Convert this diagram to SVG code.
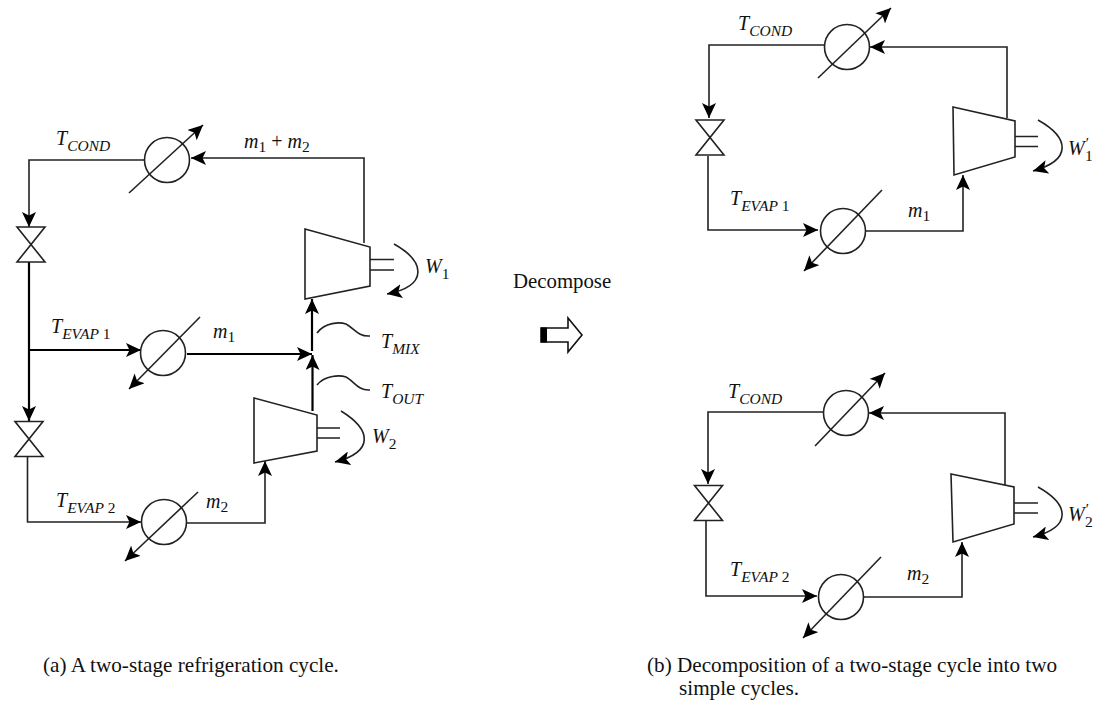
<svg xmlns="http://www.w3.org/2000/svg" width="1094" height="702" viewBox="0 0 1094 702">
<style>
text{font-family:"Liberation Serif","Times New Roman",serif;fill:#111}
.i{font-style:italic;font-size:20px}
.s{font-size:15.5px}
.c{font-size:21.2px}
.l{fill:none;stroke:#222;stroke-width:1.6}
.t{fill:none;stroke:#000;stroke-width:2.2}
.k{fill:#fff;stroke:#222;stroke-width:1.6}
</style>
<defs>
<marker id="a" markerUnits="userSpaceOnUse" markerWidth="16" markerHeight="14" refX="15" refY="7" orient="auto"><path d="M0 0L15 7L0 14L3.5 7Z" fill="#000"/></marker>
<symbol id="valve" overflow="visible"><path class="k" d="M-14 -17.5H14L-14 17.5H14Z"/></symbol>
</defs>
<g id="connectors">
<path class="l" marker-end="url(#a)" d="M144 160H29V227"/>
<path class="l" marker-end="url(#a)" d="M364 243V158H191"/>
<path class="t" marker-end="url(#a)" d="M29 262V421"/>
<path class="t" marker-end="url(#a)" d="M29 350H141"/>
<path class="t" marker-end="url(#a)" d="M187 354H312"/>
<path class="t" marker-end="url(#a)" d="M312.500 411V355"/>
<path class="t" marker-end="url(#a)" d="M312 351V299"/>
<path class="l" marker-end="url(#a)" d="M27.500 456V522H141"/>
<path class="l" marker-end="url(#a)" d="M187 523H265V461"/>
<path class="l" marker-end="url(#a)" d="M824 45H709V118"/>
<path class="l" marker-end="url(#a)" d="M708 156V230H818"/>
<path class="l" marker-end="url(#a)" d="M866 231H963V175"/>
<path class="l" marker-end="url(#a)" d="M1007 118V47H870"/>
<path class="l" marker-end="url(#a)" d="M823 412H708V484"/>
<path class="l" marker-end="url(#a)" d="M706 521V596H817"/>
<path class="l" marker-end="url(#a)" d="M864 597H962V542"/>
<path class="l" marker-end="url(#a)" d="M1005 486V413H869"/>
</g>
<g id="cond-a"><circle class="k" cx="167" cy="160" r="22.500"/><path class="l" marker-end="url(#a)" d="M129 193L203 125"/></g>
<g id="evap1-a"><circle class="k" cx="163" cy="353" r="22.500"/><path class="l" marker-end="url(#a)" d="M200 317L129 389"/></g>
<g id="evap2-a"><circle class="k" cx="164" cy="522" r="22.500"/><path class="l" marker-end="url(#a)" d="M198 492L125 561"/></g>
<g id="cond-b1"><circle class="k" cx="847" cy="47" r="22.500"/><path class="l" marker-end="url(#a)" d="M818 78L891 8"/></g>
<g id="evap-b1"><circle class="k" cx="843" cy="231" r="22.500"/><path class="l" marker-end="url(#a)" d="M882 190L804 271"/></g>
<g id="cond-b2"><circle class="k" cx="846" cy="413" r="22.500"/><path class="l" marker-end="url(#a)" d="M815 446L885 373"/></g>
<g id="evap-b2"><circle class="k" cx="841" cy="597" r="22.500"/><path class="l" marker-end="url(#a)" d="M881 557L803 638"/></g>
<g id="valve-a1"><use href="#valve" x="31" y="244.500"/></g>
<g id="valve-a2"><use href="#valve" x="29" y="439"/></g>
<g id="valve-b1"><use href="#valve" x="710" y="137.500"/></g>
<g id="valve-b2"><use href="#valve" x="708.500" y="503"/></g>
<g id="comp-a1"><path class="k" d="M305 229L370 247V286L305 299Z"/><path class="l" d="M370 259.500H394M370 270H394"/><path class="l" marker-end="url(#a)" d="M394 244C426 262 428 286 387 294"/></g>
<g id="comp-a2"><path class="k" d="M254 398L317 415V451L254 463Z"/><path class="l" d="M317 428H340M317 438H340"/><path class="l" marker-end="url(#a)" d="M341 411C372 430 374 452 335 462"/></g>
<g id="comp-b1"><path class="k" d="M953 107L1015 121V157L954 175Z"/><path class="l" d="M1015 136.500H1038M1015 146.500H1038"/><path class="l" marker-end="url(#a)" d="M1038 120C1070 138 1072 160 1033 171"/></g>
<g id="comp-b2"><path class="k" d="M951 474L1014 487V524L953 542Z"/><path class="l" d="M1014 503H1038M1014 513H1038"/><path class="l" marker-end="url(#a)" d="M1038 487C1070 505 1072 527 1033 537"/></g>
<g id="leaders"><path class="l" d="M317 333C325 322 340 322 346 324C354 328 358 337 370 336"/><path class="l" d="M317 385C325 375 340 375 346 377C354 381 358 391 370 390"/></g>
<g id="block-arrow"><path d="M541 328H568V318L582 335L568 352V342H541Z" fill="#fff" stroke="#111" stroke-width="1.600"/><rect x="541" y="327.500" width="6" height="15" fill="#000"/></g>
<g id="labels">
<text class="i" x="56" y="145">T<tspan class="s" dy="6">COND</tspan></text>
<text class="i" x="244" y="148">m<tspan class="s" font-style="normal" dy="4">1</tspan><tspan font-style="normal" dy="-4"> + </tspan>m<tspan class="s" font-style="normal" dy="4">2</tspan></text>
<text class="i" x="51" y="333">T<tspan class="s" dy="6">EVAP</tspan><tspan class="s" font-style="normal"> 1</tspan></text>
<text class="i" x="213" y="338">m<tspan class="s" font-style="normal" dy="4">1</tspan></text>
<text class="i" x="381" y="348">T<tspan class="s" dy="6">MIX</tspan></text>
<text class="i" x="381" y="398">T<tspan class="s" dy="6">OUT</tspan></text>
<text class="i" x="425" y="273">W<tspan class="s" font-style="normal" dy="6">1</tspan></text>
<text class="i" x="372" y="443">W<tspan class="s" font-style="normal" dy="6">2</tspan></text>
<text class="i" x="56" y="507">T<tspan class="s" dy="6">EVAP</tspan><tspan class="s" font-style="normal"> 2</tspan></text>
<text class="i" x="206" y="508">m<tspan class="s" font-style="normal" dy="4">2</tspan></text>
<text class="c" x="513" y="288" style="font-size:20.8px">Decompose</text>
<text class="i" x="738" y="30">T<tspan class="s" dy="6">COND</tspan></text>
<text class="i" x="730" y="205">T<tspan class="s" dy="6">EVAP</tspan><tspan class="s" font-style="normal"> 1</tspan></text>
<text class="i" x="908" y="217">m<tspan class="s" font-style="normal" dy="4">1</tspan></text>
<text class="i" x="1068" y="155">W<tspan class="s" dy="-7">′</tspan><tspan class="s" font-style="normal" dy="13" dx="-3">1</tspan></text>
<text class="i" x="728" y="398">T<tspan class="s" dy="6">COND</tspan></text>
<text class="i" x="730" y="576">T<tspan class="s" dy="6">EVAP</tspan><tspan class="s" font-style="normal"> 2</tspan></text>
<text class="i" x="907" y="580">m<tspan class="s" font-style="normal" dy="4">2</tspan></text>
<text class="i" x="1068" y="521">W<tspan class="s" dy="-7">′</tspan><tspan class="s" font-style="normal" dy="13" dx="-3">2</tspan></text>
<text class="c" x="43" y="672">(a) A two-stage refrigeration cycle.</text>
<text class="c" x="647" y="672">(b) Decomposition of a two-stage cycle into two</text>
<text class="c" x="679" y="695">simple cycles.</text>
</g>
</svg>
